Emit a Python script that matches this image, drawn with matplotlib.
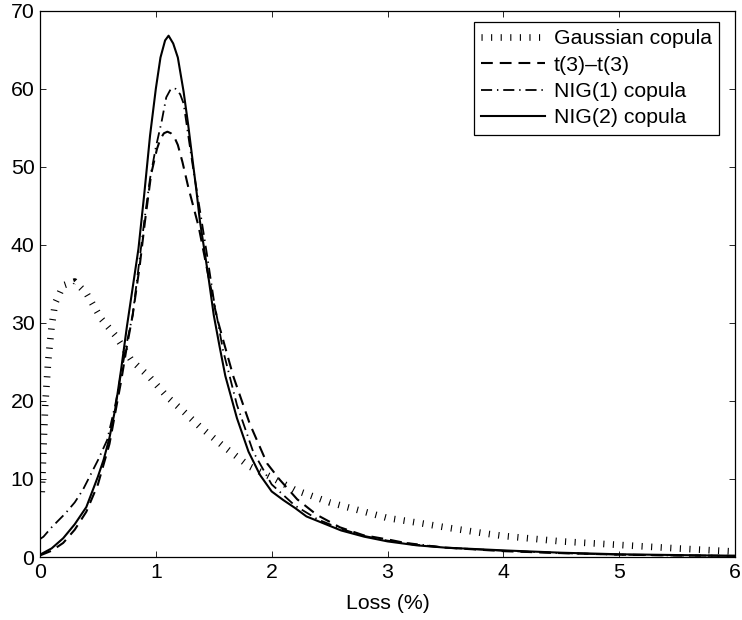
import matplotlib
matplotlib.use('Agg')
import matplotlib.pyplot as plt

plt.rcParams['font.family'] = ['Liberation Sans', 'DejaVu Sans']
plt.rcParams['lines.scale_dashes'] = False

# Gaussian copula
gauss_x = [0.015, 0.03, 0.045, 0.07, 0.1, 0.13, 0.2, 0.3, 0.4, 0.53, 0.65, 0.79, 0.95,
           1.1, 1.25, 1.38, 1.6, 1.81, 2.0, 2.2, 2.5, 2.75, 3.0, 3.3, 3.5, 3.85, 4.0,
           4.5, 5.0, 5.5, 6.0]
gauss_y = [8.3, 14.0, 19.5, 25.0, 29.5, 32.5, 34.8, 35.3, 33.8, 30.5, 28.4, 25.2, 23.0,
           20.5, 18.5, 16.7, 14.0, 11.6, 10.2, 8.6, 7.0, 6.0, 5.0, 4.3, 3.8, 3.0, 2.7,
           2.0, 1.55, 1.1, 0.7]

# t(3)-t(3)
t3_x = [0.0, 0.1, 0.2, 0.3, 0.4, 0.5, 0.6, 0.65, 0.7, 0.75, 0.8, 0.86, 0.907, 0.96,
        1.01, 1.04, 1.07, 1.1, 1.13, 1.16, 1.19, 1.23, 1.28, 1.37, 1.45, 1.525, 1.6,
        1.67, 1.81, 1.96, 2.07, 2.22, 2.39, 2.59, 2.79, 3.02, 3.22, 3.5, 4.0, 4.5, 5.0,
        5.5, 6.0]
t3_y = [0.2, 0.8, 1.8, 3.5, 5.8, 9.3, 14.5, 18.5, 22.5, 27.0, 31.0, 37.2, 43.1, 49.1,
        52.3, 53.6, 54.3, 54.5, 54.3, 53.8, 52.8, 50.6, 47.4, 42.3, 36.3, 30.8, 26.8,
        23.1, 17.1, 12.0, 9.9, 7.4, 5.4, 3.8, 2.8, 2.2, 1.6, 1.2, 0.75, 0.5, 0.3,
        0.2, 0.15]

# NIG(1) copula
nig1_x = [0.0, 0.03, 0.1, 0.22, 0.3, 0.37, 0.5, 0.58, 0.65, 0.7, 0.75, 0.8, 0.85, 0.9,
          0.95, 1.0, 1.05, 1.09, 1.13, 1.17, 1.21, 1.24, 1.28, 1.32, 1.38, 1.44, 1.5,
          1.58, 1.7, 1.84, 2.0, 2.2, 2.4, 2.6, 2.8, 3.0, 3.5, 4.0, 4.5, 5.0, 5.5, 6.0]
nig1_y = [2.3, 2.6, 3.8, 5.6, 7.0, 8.6, 12.4, 15.0, 19.5, 23.5, 27.5, 31.0, 37.0, 43.0,
          48.5, 52.5, 55.8, 58.9, 60.0, 60.0, 59.3, 58.1, 54.0, 50.0, 44.5, 38.9, 33.0,
          26.5, 19.5, 13.5, 9.3, 6.6, 4.8, 3.6, 2.7, 2.1, 1.2, 0.8, 0.5, 0.3, 0.2, 0.15]

# NIG(2) copula
nig2_x = [0.0, 0.1, 0.2, 0.3, 0.4, 0.5, 0.55, 0.6, 0.65, 0.7, 0.75, 0.8, 0.85, 0.9, 0.95,
          1.0, 1.04, 1.08, 1.11, 1.15, 1.19, 1.24, 1.28, 1.31, 1.35, 1.38, 1.45, 1.5,
          1.55, 1.6, 1.7, 1.8, 1.9, 2.0, 2.1, 2.2, 2.3, 2.4, 2.5, 2.6, 2.8, 3.0, 3.25,
          3.5, 4.0, 4.5, 5.0, 5.5, 6.0]
nig2_y = [0.3, 1.1, 2.4, 4.2, 6.4, 10.3, 12.5, 15.3, 19.0, 24.0, 29.5, 34.5, 39.5, 46.5,
          54.0, 60.0, 64.0, 66.2, 66.8, 65.8, 64.0, 59.6, 55.3, 51.7, 47.0, 43.1, 36.3,
          31.0, 27.0, 23.2, 17.8, 13.5, 10.5, 8.4, 7.3, 6.3, 5.2, 4.6, 4.0, 3.4, 2.6,
          2.0, 1.5, 1.2, 0.85, 0.55, 0.35, 0.25, 0.15]

labels = ['Gaussian copula', 't(3)\u2013t(3)', 'NIG(1) copula', 'NIG(2) copula']

fig = plt.figure(figsize=(7.42, 6.2), dpi=100)
ax = fig.add_axes([0.0539, 0.1016, 0.9367, 0.8811])

ax.plot(gauss_x, gauss_y, color='black', linewidth=4.8, dashes=(0.8, 6.1),
        dash_capstyle='butt', label=labels[0])
ax.plot(t3_x, t3_y, color='black', linewidth=1.5, dashes=(8.5, 5.0), label=labels[1])
ax.plot(nig1_x, nig1_y, color='black', linewidth=1.3, dashes=(8.0, 3.5, 1.0, 3.5),
        label=labels[2])
ax.plot(nig2_x, nig2_y, color='black', linewidth=1.5, label=labels[3])

ax.set_xlim(0, 6)
ax.set_ylim(0, 70)
ax.set_xticks(range(0, 7))
ax.set_yticks(range(0, 80, 10))
ax.tick_params(direction='in', length=4.3, width=0.6, top=True, right=True,
               labelsize=15.3, pad=4)
for sp in ax.spines.values():
    sp.set_linewidth(0.9)

ax.set_xlabel('Loss (%)', fontsize=15.3, labelpad=9)

leg = ax.legend(loc='upper right', bbox_to_anchor=(0.977, 0.980), borderaxespad=0,
                fontsize=15.3, handlelength=3.0, handletextpad=0.4, labelspacing=0.35,
                borderpad=0.35, fancybox=False, framealpha=1, edgecolor='black')
leg.get_frame().set_linewidth(0.9)

fig.savefig('out.png', dpi=100)
